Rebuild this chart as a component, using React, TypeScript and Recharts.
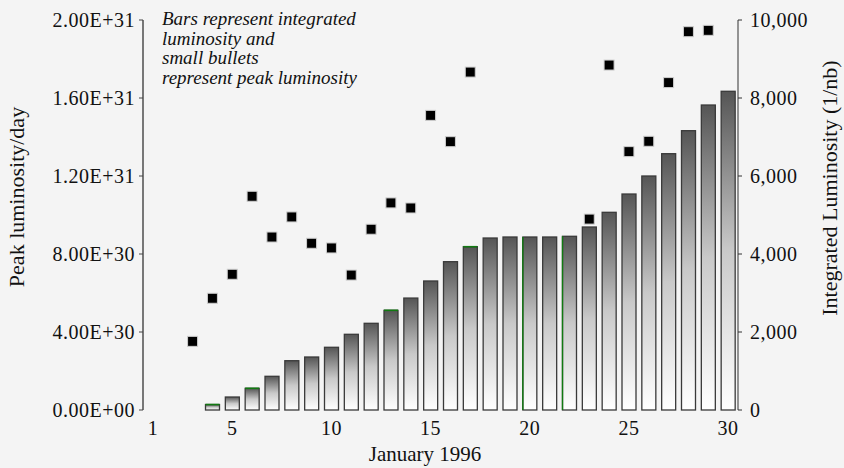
import { Bar, ComposedChart, Scatter, XAxis, YAxis } from 'recharts';

const days = [
  1, 2, 3, 4, 5, 6, 7, 8, 9, 10, 11, 12, 13, 14, 15, 16, 17, 18, 19, 20, 21, 22, 23, 24, 25,
  26, 27, 28, 29, 30,
];

// integrated luminosity (1/nb), right axis
const integrated = [
  null, null, null, 140, 333, 556, 864, 1264, 1359, 1608, 1941, 2223, 2556, 2870, 3308, 3803,
  4187, 4410, 4436, 4436, 4436, 4454, 4692, 5069, 5538, 6000, 6572, 7162, 7820, 8172,
];

// peak luminosity (units of 1e30), left axis
const peak = [
  null, null, 3.52, 5.73, 6.96, 10.96, 8.87, 9.9, 8.55, 8.31, 6.92, 9.27, 10.62, 10.36, 15.11,
  13.76, 17.33, null, null, null, null, null, 9.79, 17.69, 13.25, 13.78, 16.79, 19.4, 19.47, null,
];

const dayLabels = [1, 5, 10, 15, 20, 25, 30];
const bandEdges = days.map((d) => d - 0.5).concat([30.5]);
const leftTicks = [0, 4e30, 8e30, 1.2e31, 1.6e31, 2e31];
const rightTicks = [0, 2000, 4000, 6000, 8000, 10000];

const greenTopDays = [4, 6, 13, 17];
const greenLeftDays = [20, 22];

const barData = days.map((day, i) => ({ day, lumi: integrated[i] }));
const peakData = days
  .map((day, i) => ({ day, peak: peak[i] == null ? null : (peak[i] as number) * 1e30 }))
  .filter((d) => d.peak != null);

const FONT = '"Liberation Serif", "Times New Roman", serif';
const tickStyle = { fontSize: 20, fill: '#111', fontFamily: FONT, letterSpacing: 0.5 };

function formatExp(v: number) {
  const [m, e] = v.toExponential(2).split('e');
  const sign = e.startsWith('-') ? '-' : '+';
  const digits = e.replace(/[+-]/, '').padStart(2, '0');
  return `${m}E${sign}${digits}`;
}

function BarShape(props: any) {
  const { x, y, width, height, payload } = props;
  if (!height || height <= 0) return null;
  const day = payload?.day;
  return (
    <g>
      <rect x={x} y={y} width={width} height={height} fill="url(#lumiGrad)" stroke="#3a3a3a" strokeWidth={1.3} />
      {greenTopDays.includes(day) && (
        <line x1={x} y1={y} x2={x + width} y2={y} stroke="#117a11" strokeWidth={1.6} />
      )}
      {greenLeftDays.includes(day) && (
        <line x1={x} y1={y} x2={x} y2={y + height} stroke="#117a11" strokeWidth={1.4} />
      )}
    </g>
  );
}

function Bullet(props: any) {
  const { cx, cy } = props;
  if (cx == null || cy == null) return null;
  return <rect x={cx - 5} y={cy - 5} width={10} height={10} fill="#000" stroke="#cfcfcf" strokeWidth={1} />;
}

export default function App() {
  return (
    <div
      style={{
        position: 'absolute',
        top: 0,
        left: 0,
        width: 844,
        height: 468,
        background: '#f4f4f4',
        fontFamily: FONT,
      }}
    >
      <ComposedChart
        width={844}
        height={468}
        data={barData}
        margin={{ top: 20, right: 0, bottom: 0, left: 0 }}
      >
        <defs>
          <linearGradient id="lumiGrad" x1="0" y1="0" x2="0" y2="1">
            <stop offset="0%" stopColor="#555555" />
            <stop offset="50%" stopColor="#c9c9c9" />
            <stop offset="100%" stopColor="#ffffff" />
          </linearGradient>
        </defs>
        <XAxis
          xAxisId="marks"
          dataKey="day"
          type="number"
          domain={[0.5, 30.5]}
          ticks={bandEdges}
          interval={0}
          height={0}
          tickSize={3}
          tickFormatter={() => ''}
          axisLine={{ stroke: '#777', strokeWidth: 2 }}
          tickLine={{ stroke: '#444' }}
          allowDataOverflow
        />
        <XAxis
          xAxisId="day"
          dataKey="day"
          type="number"
          domain={[0.5, 30.5]}
          ticks={dayLabels}
          interval={0}
          height={58}
          axisLine={false}
          tickLine={false}
          tickSize={8}
          tickMargin={3}
          tick={tickStyle}
          allowDataOverflow
          label={{
            content: () => (
              <text x={425} y={461} textAnchor="middle" fontSize={21} fontFamily={FONT} fill="#111">
                January 1996
              </text>
            ),
          }}
        />
        <YAxis
          yAxisId="left"
          orientation="left"
          width={143}
          domain={[0, 2e31]}
          ticks={leftTicks}
          interval={0}
          tickFormatter={formatExp}
          tick={tickStyle}
          tickSize={4}
          tickMargin={4}
          axisLine={{ stroke: '#777', strokeWidth: 2 }}
          tickLine={{ stroke: '#444' }}
          allowDataOverflow
          label={{
            content: () => (
              <text
                x={24}
                y={197}
                textAnchor="middle"
                fontSize={22}
                fontFamily={FONT}
                fill="#111"
                transform="rotate(-90 24 197)"
              >
                Peak luminosity/day
              </text>
            ),
          }}
        />
        <YAxis
          yAxisId="right"
          orientation="right"
          width={106}
          domain={[0, 10000]}
          ticks={rightTicks}
          interval={0}
          tickFormatter={(v: number) => v.toLocaleString('en-US')}
          tick={tickStyle}
          tickSize={4}
          tickMargin={8}
          axisLine={{ stroke: '#333', strokeWidth: 1 }}
          tickLine={{ stroke: '#333' }}
          label={{
            content: () => (
              <text
                x={837}
                y={188}
                textAnchor="middle"
                fontSize={22}
                fontFamily={FONT}
                fill="#111"
                transform="rotate(-90 837 188)"
              >
                Integrated Luminosity (1/nb)
              </text>
            ),
          }}
        />
        <Bar
          xAxisId="day"
          yAxisId="right"
          dataKey="lumi"
          barSize={14}
          shape={<BarShape />}
          isAnimationActive={false}
        />
        <Scatter
          xAxisId="day"
          yAxisId="left"
          data={peakData}
          dataKey="peak"
          shape={<Bullet />}
          isAnimationActive={false}
        />
      </ComposedChart>
      <div
        style={{
          position: 'absolute',
          left: 162,
          top: 9,
          fontStyle: 'italic',
          fontSize: 19,
          lineHeight: '19.5px',
          color: '#111',
          pointerEvents: 'none',
        }}
      >
        <div>Bars represent integrated</div>
        <div>luminosity and</div>
        <div>small bullets</div>
        <div>represent peak luminosity</div>
      </div>
    </div>
  );
}
